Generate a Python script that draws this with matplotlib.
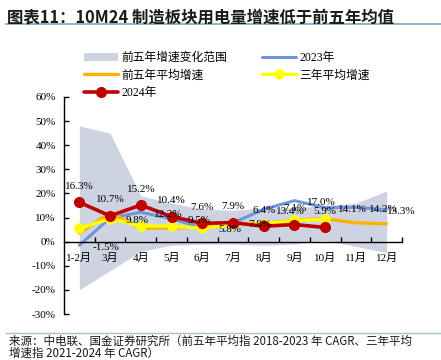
import matplotlib
matplotlib.use("Agg")
import matplotlib.pyplot as plt
import numpy as np
from matplotlib.lines import Line2D

months = ["1-2月", "3月", "4月", "5月", "6月", "7月", "8月", "9月", "10月", "11月", "12月"]
band_upper = [48, 45, 19, 16, 13.5, 13, 14, 14, 15, 16, 21]
band_lower = [-20, -12, -4, -1.5, -1, -1, -1.5, -1, 0.5, -2, -4.5]
y2023 = [-1.5, 9.8, 12.2, 9.5, 5.8, 7.8, 13.4, 17.0, 14.1, 14.2, 13.3]
avg5 = [3.5, 12.0, 5.5, 5.8, 6.0, 7.0, 7.5, 9.0, 9.5, 7.8, 7.4]
avg3 = [5.5, 9.5, 6.5, 6.5, 5.5, 7.2, 7.4, 8.8, 9.2]
y2024 = [16.3, 10.7, 15.2, 10.4, 7.6, 7.9, 6.4, 7.1, 5.9]
yticks = [-30, -20, -10, 0, 10, 20, 30, 40, 50, 60]

SERIF = ["Liberation Serif", "Noto Sans CJK SC"]
CJK = ["Noto Sans CJK SC", "DejaVu Sans"]
plt.rcParams["font.family"] = SERIF
plt.rcParams["font.size"] = 8

fig = plt.figure(figsize=(4.41, 3.60), dpi=100)
ax = fig.add_axes([64/441, 1-314/360, (402-64)/441, (314-97)/360])

x = np.arange(len(months))
band = ax.fill_between(x, band_lower, band_upper, color="#CDD3E0", lw=0, zorder=1)
l23, = ax.plot(x, y2023, color="#6F95DA", lw=2.2, zorder=2, solid_capstyle="round")
l5, = ax.plot(x, avg5, color="#FFB300", lw=2.4, zorder=3, solid_capstyle="round")
l3, = ax.plot(np.arange(len(avg3)), avg3, color="#FFFF00", lw=2.4, marker="o", ms=6.5,
              zorder=4, solid_capstyle="round")
l24, = ax.plot(np.arange(len(y2024)), y2024, color="#C00000", lw=2.6, marker="o", ms=7,
               zorder=5, solid_capstyle="round")

for i, v in enumerate(y2024):
    ax.annotate(f"{v:.1f}%", (i, v), xytext=(0, 11.5), textcoords="offset points",
                ha="center", va="center", fontsize=8, zorder=6)
for i, v in enumerate(y2023):
    dx = 19.5 if i < len(y2023) - 1 else 10.5
    ax.annotate(f"{v:.1f}%", (i, v), xytext=(dx, -1.5), textcoords="offset points",
                ha="center", va="center", fontsize=8, zorder=6,
                annotation_clip=False)

ax.set_xlim(-0.5, len(months) - 0.5)
ax.set_ylim(-30, 60)
ax.set_xticks(np.arange(0.5, len(months)), minor=True)
ax.tick_params(axis="x", which="major", length=0, pad=8, labelsize=8)
ax.tick_params(axis="x", which="minor", length=3.5, direction="in", width=1)
ax.tick_params(axis="y", length=3.5, direction="in", width=1, pad=6, labelsize=8)
ax.set_yticks(yticks)
ax.set_yticklabels([f"{t}%" for t in yticks])
ax.set_xticks(x)
ax.set_xticklabels(months)

for s in ["top", "right"]:
    ax.spines[s].set_visible(False)
ax.spines["bottom"].set_position(("data", 0))
ax.spines["left"].set_linewidth(1)
ax.spines["bottom"].set_linewidth(1)

handles = [band, l5, l24, l23, l3]
labels = ["前五年增速变化范围", "前五年平均增速", "2024年", "2023年", "三年平均增速"]
fig.legend(handles, labels, loc="upper left", bbox_to_anchor=(84/441, 1-52/360),
           ncol=2, frameon=False, prop={"family": SERIF, "size": 8.5},
           handlelength=2.9, handletextpad=0.3, columnspacing=2.9,
           labelspacing=0.45, borderpad=0, borderaxespad=0, handleheight=0.6)

fig.text(7/441, 1-17/360, "图表11：10M24 制造板块用电量增速低于前五年均值",
         family=CJK, fontsize=11.8, fontweight="bold", ha="left", va="center",
         color="#1a1a1a")
fig.add_artist(Line2D([6/441, 1], [1-24/360, 1-24/360], color="#7FA3B5", lw=1.2))
fig.add_artist(Line2D([6/441, 1], [1-333/360, 1-333/360], color="#A9BFCB", lw=1))
fig.text(9/441, 1-341/360,
         "来源：中电联、国金证券研究所（前五年平均指 2018-2023 年 CAGR、三年平均",
         family=CJK, fontsize=8.3, ha="left", va="center", color="#1a1a1a")
fig.text(9/441, 1-353/360, "增速指 2021-2024 年 CAGR）",
         family=CJK, fontsize=8.3, ha="left", va="center", color="#1a1a1a")

fig.savefig("out.png", dpi=100)
